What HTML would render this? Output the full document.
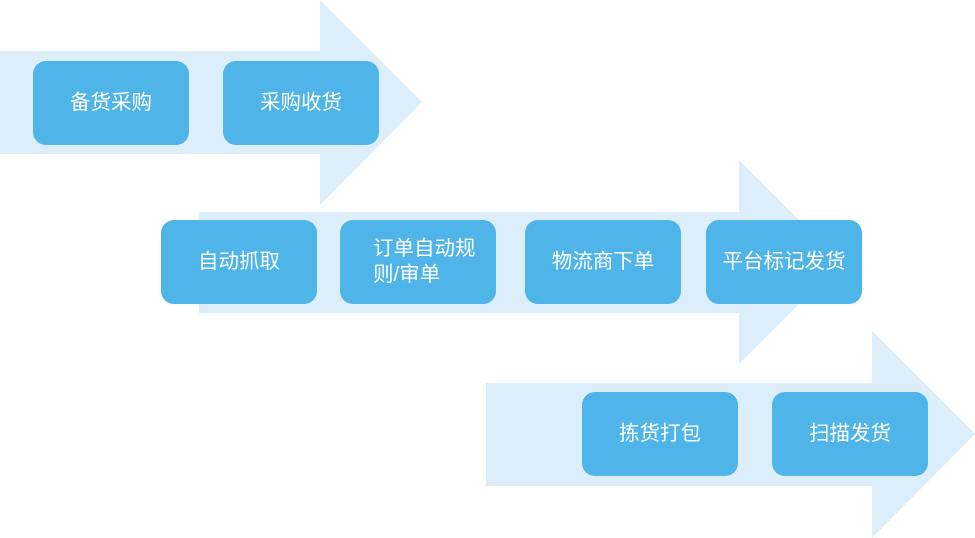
<!DOCTYPE html>
<html><head><meta charset="utf-8"><style>
body{margin:0;background:#fff;width:975px;height:538px;position:relative;overflow:hidden;font-family:"Liberation Sans","Noto Sans CJK SC",sans-serif}
svg{position:absolute;left:0;top:0}
.b{position:absolute;width:156px;height:84px;background:#4fb4e8;border-radius:13px;color:#fff;font-size:20.5px;display:flex;align-items:center;justify-content:center;line-height:26px}
</style></head><body>
<svg width="975" height="538">
<polygon fill="#dceef9" points="0,51 320,51 320,0 422,102 320,205 320,154 0,154"/>
<polygon fill="#dceef9" points="199,212 739,212 739,160 841,262 739,364 739,313 199,313"/>
<polygon fill="#dceef9" points="486,383 872,383 872,331 975,434 872,538 872,486 486,486"/>
</svg>
<div class="b" style="left:33px;top:61px">备货采购</div>
<div class="b" style="left:223px;top:61px">采购收货</div>
<div class="b" style="left:161px;top:220px">自动抓取</div>
<div class="b" style="left:340px;top:220px;justify-content:flex-start"><span style="padding-left:33px;width:110px">订单自动规则/审单</span></div>
<div class="b" style="left:525px;top:220px">物流商下单</div>
<div class="b" style="left:706px;top:220px">平台标记发货</div>
<div class="b" style="left:582px;top:392px">拣货打包</div>
<div class="b" style="left:772px;top:392px">扫描发货</div>
</body></html>
